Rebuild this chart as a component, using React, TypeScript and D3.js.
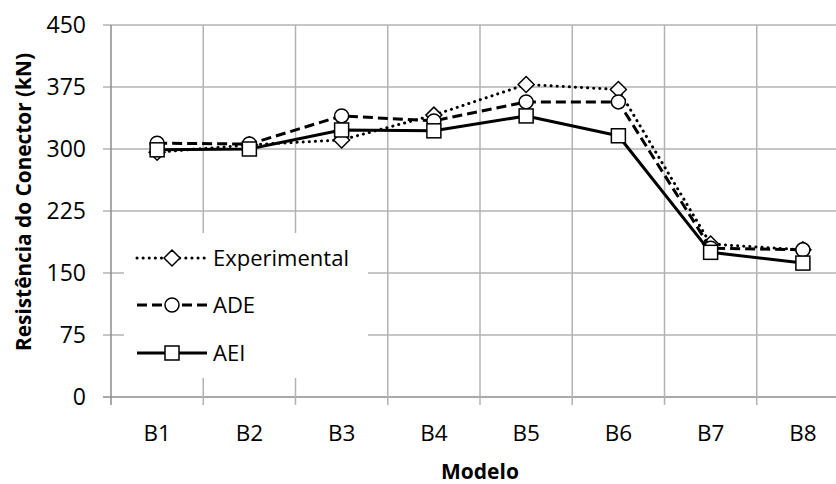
import React from "react";
import * as d3 from "d3";

const categories = ["B1", "B2", "B3", "B4", "B5", "B6", "B7", "B8"];
const experimental = [296, 305, 311, 341, 378, 372, 185, 178];
const ade = [307, 306, 340, 334, 357, 357, 180, 178];
const aei = [299, 300, 323, 322, 340, 316, 175, 162];
const yTicks = [0, 75, 150, 225, 300, 375, 450];
const seriesNames = ["Experimental", "ADE", "AEI"];

const W = 836;
const H = 484;
const left = 111;
const right = 849;
const top = 25;
const bottom = 397;
const FONT = "'Open Sans', sans-serif";

type Shape = "diamond" | "circle" | "square";

function Marker({ shape, x, y }: { shape: Shape; x: number; y: number }) {
  const common = { fill: "#fff", stroke: "#000", strokeWidth: 1.5 };
  if (shape === "circle") return <circle cx={x} cy={y} r={7} {...common} />;
  if (shape === "square") return <rect x={x - 7} y={y - 7} width={14} height={14} {...common} />;
  const s = 8;
  return <path d={`M${x},${y - s}L${x + s},${y}L${x},${y + s}L${x - s},${y}Z`} {...common} />;
}

export default function App() {
  const x = d3.scaleBand<string>().domain(categories).range([left, right]).padding(0);
  const y = d3.scaleLinear().domain([0, 450]).range([bottom, top]);
  const cx = (c: string) => (x(c) as number) + x.bandwidth() / 2;

  const series = [
    { name: seriesNames[0], values: experimental, shape: "diamond" as Shape, dash: "0.1 6", width: 3, cap: "round" as const },
    { name: seriesNames[1], values: ade, shape: "circle" as Shape, dash: "10 5", width: 3, cap: "butt" as const },
    { name: seriesNames[2], values: aei, shape: "square" as Shape, dash: undefined, width: 3, cap: "butt" as const },
  ];

  const line = d3
    .line<number>()
    .x((_, i) => cx(categories[i]))
    .y((d) => y(d));

  const legendRows = [258, 305, 353];

  return (
    <svg
      width={W}
      height={H}
      style={{ position: "absolute", left: 0, top: 0, background: "#fff" }}
      fontFamily={FONT}
    >
      <rect x={0} y={0} width={W} height={H} fill="#fff" />
      {/* horizontal gridlines */}
      {yTicks.map((t) => (
        <line key={"h" + t} x1={left - 8} x2={right} y1={y(t)} y2={y(t)} stroke={t === 0 ? "#8c8c8c" : "#b3b3b3"} strokeWidth={1.5} />
      ))}
      {/* vertical gridlines */}
      {categories.map((c, i) =>
        i === 0 ? null : (
          <line key={"v" + c} x1={x(c)} x2={x(c)} y1={top} y2={bottom + 8} stroke="#b3b3b3" strokeWidth={1.5} />
        )
      )}
      <line x1={right} x2={right} y1={top} y2={bottom + 8} stroke="#b3b3b3" strokeWidth={1.5} />
      {/* y axis */}
      <line x1={left} x2={left} y1={top} y2={bottom + 8} stroke="#8c8c8c" strokeWidth={1.5} />
      {/* y tick labels */}
      {yTicks.map((t) => (
        <text key={"yl" + t} x={86} y={y(t)} dy="0.36em" textAnchor="end" fontSize={23} fill="#000">
          {t}
        </text>
      ))}
      {/* x tick labels */}
      {categories.map((c) => (
        <text key={"xl" + c} x={cx(c)} y={433} dy="0.36em" textAnchor="middle" fontSize={22.5} fill="#000">
          {c}
        </text>
      ))}
      {/* axis titles */}
      <text x={480} y={471} dy="0.36em" textAnchor="middle" fontSize={21} fontWeight="bold" fill="#000">
        Modelo
      </text>
      <text
        transform={`translate(23,202) rotate(-90)`}
        dy="0.36em"
        textAnchor="middle"
        fontSize={20.8}
        fontWeight="bold"
        fill="#000"
      >
        Resistência do Conector (kN)
      </text>
      {/* series */}
      {series.map((s) => (
        <g key={s.name}>
          <path
            d={line(s.values) || ""}
            fill="none"
            stroke="#000"
            strokeWidth={s.width}
            strokeDasharray={s.dash}
            strokeLinecap={s.cap}
            strokeLinejoin="round"
          />
          {s.values.map((v, i) => (
            <Marker key={i} shape={s.shape} x={cx(categories[i])} y={y(v)} />
          ))}
        </g>
      ))}
      {/* legend */}
      <rect x={124} y={233} width={244} height={145} fill="#fff" />
      {series.map((s, i) => (
        <g key={"lg" + s.name}>
          <line
            x1={137}
            x2={207}
            y1={legendRows[i]}
            y2={legendRows[i]}
            stroke="#000"
            strokeWidth={s.width}
            strokeDasharray={s.dash}
            strokeLinecap={s.cap}
          />
          <Marker shape={s.shape} x={172} y={legendRows[i]} />
          <text x={213} y={legendRows[i]} dy="0.36em" fontSize={22} fill="#000">
            {s.name}
          </text>
        </g>
      ))}
    </svg>
  );
}
